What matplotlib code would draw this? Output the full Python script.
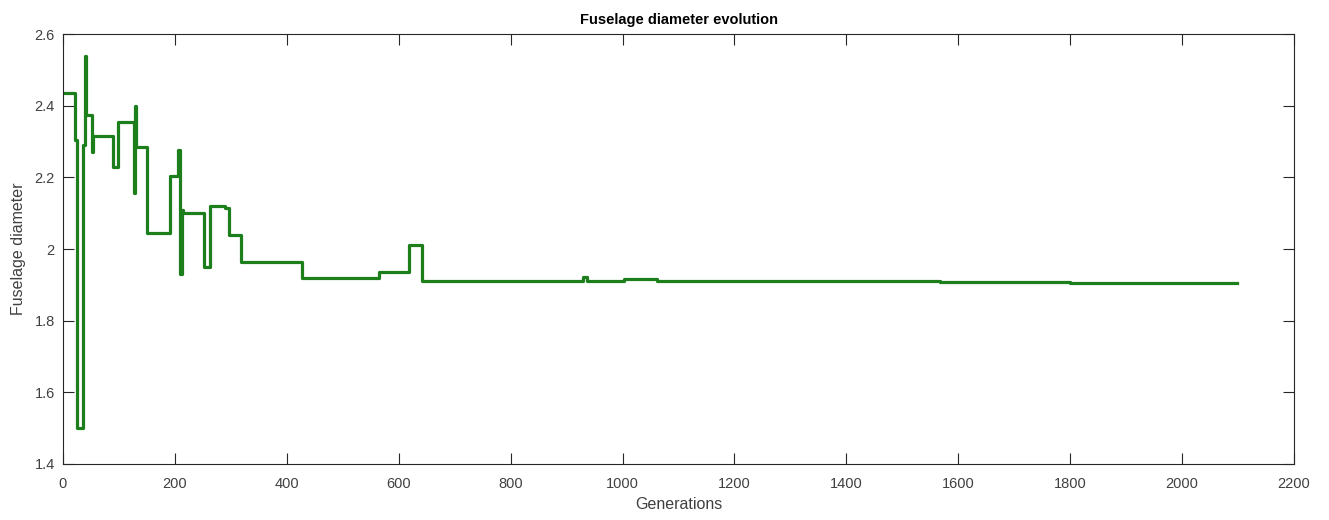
import matplotlib.pyplot as plt

# step change points (generation where a new value starts)
gens = [0, 22, 25, 36, 39, 41, 52, 54, 89, 99, 127, 129, 131, 151, 192,
        206, 209, 212, 214, 252, 262, 290, 297, 319, 428, 565, 619, 641,
        929, 937, 1003, 1062, 1567, 1799, 2098]
diam = [2.435, 2.305, 1.5, 2.29, 2.54, 2.375, 2.27, 2.315, 2.23, 2.355, 2.155,
        2.4, 2.285, 2.045, 2.205, 2.275, 1.93, 2.11, 2.1, 1.95, 2.12, 2.115,
        2.04, 1.965, 1.918, 1.935, 2.01, 1.91, 1.922, 1.912, 1.917, 1.912,
        1.909, 1.904, 1.904]

xticks = list(range(0, 2201, 200))
yticks = [1.4, 1.6, 1.8, 2, 2.2, 2.4, 2.6]

plt.rcParams['font.family'] = ['Liberation Sans', 'DejaVu Sans']
axcol = '#262626'

fig = plt.figure(figsize=(13.29, 5.2), dpi=100)
ax = fig.add_axes([0.0474, 0.1077, 0.9263, 0.8269])

ax.step(gens, diam, where='post', color='#1c7f1c', linewidth=2.3)

ax.set_xlim(0, 2200)
ax.set_ylim(1.4, 2.6)
ax.set_xticks(xticks)
ax.set_yticks(yticks)
ax.set_yticklabels(['1.4', '1.6', '1.8', '2', '2.2', '2.4', '2.6'])
ax.tick_params(direction='in', length=8, width=0.8, top=True, right=True,
               colors=axcol, labelsize=10.5, labelcolor='#404040')
ax.tick_params(axis='x', pad=9.5)
ax.tick_params(axis='y', pad=6)
for s in ax.spines.values():
    s.set_color(axcol)
    s.set_linewidth(0.8)

ax.set_title('Fuselage diameter evolution', fontsize=10.5, fontweight='bold',
             color='black', pad=7)
ax.set_xlabel('Generations', fontsize=11.5, color='#404040', labelpad=4)
ax.set_ylabel('Fuselage diameter', fontsize=11.5, color='#404040', labelpad=6)

fig.savefig('out.png', dpi=100)
